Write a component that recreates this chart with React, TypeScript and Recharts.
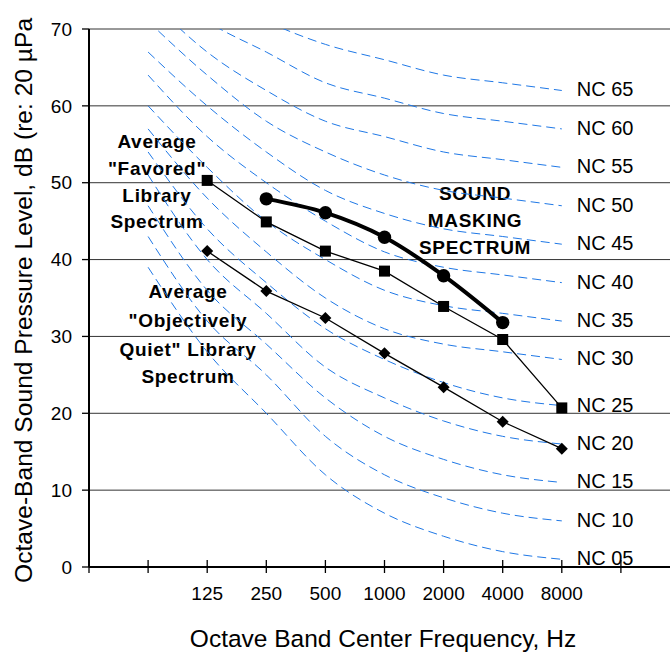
import { LineChart, Line, XAxis, YAxis, CartesianGrid } from "recharts";

// band positions on the x axis (0 = 31.5 Hz ... 9 = 16 kHz)
const bandPos = [1, 2, 3, 4, 5, 6, 7, 8];
const tickLabels = ["", "", "125", "250", "500", "1000", "2000", "4000", "8000", ""];

// NC curves, 63 Hz .. 8000 Hz
const nc65 = [80, 75, 71, 68, 66, 64, 63, 62];
const nc60 = [77, 71, 67, 63, 61, 59, 58, 57];
const nc55 = [74, 67, 62, 58, 56, 54, 53, 52];
const nc50 = [71, 64, 58, 54, 51, 49, 48, 47];
const nc45 = [67, 60, 54, 49, 46, 44, 43, 42];
const nc40 = [64, 56, 50, 45, 41, 39, 38, 37];
const nc35 = [60, 52, 45, 40, 36, 34, 33, 32];
const nc30 = [57, 48, 41, 35, 31, 29, 28, 27];
const nc25 = [54, 44, 37, 31, 27, 24, 22, 21];
const nc20 = [51, 40, 33, 26, 22, 19, 17, 16];
const nc15 = [47, 36, 29, 22, 17, 14, 12, 11];
const nc10 = [43, 32, 25, 17, 12, 9, 7, 6];
const nc05 = [39, 28, 20, 12, 7, 4, 2, 1];

const ncCurves: { name: string; values: number[] }[] = [
  { name: "NC 65", values: nc65 },
  { name: "NC 60", values: nc60 },
  { name: "NC 55", values: nc55 },
  { name: "NC 50", values: nc50 },
  { name: "NC 45", values: nc45 },
  { name: "NC 40", values: nc40 },
  { name: "NC 35", values: nc35 },
  { name: "NC 30", values: nc30 },
  { name: "NC 25", values: nc25 },
  { name: "NC 20", values: nc20 },
  { name: "NC 15", values: nc15 },
  { name: "NC 10", values: nc10 },
  { name: "NC 05", values: nc05 },
];

// measured spectra (null = no value at that band)
const favored = [null, 50.3, 44.9, 41.1, 38.5, 33.9, 29.6, 20.7];
const quiet = [null, 41.1, 35.9, 32.4, 27.8, 23.4, 18.9, 15.4];
const masking = [null, null, 47.9, 46.1, 42.9, 37.9, 31.8, null];

const data = bandPos.map((pos, i) => {
  const row: Record<string, number | null> = {
    pos,
    favored: favored[i],
    quiet: quiet[i],
    masking: masking[i],
  };
  ncCurves.forEach((c) => (row[c.name] = c.values[i]));
  return row;
});

const FONT = "'Liberation Sans', Arial, sans-serif";

function FreqTick({ x, y, payload }: any) {
  const label = tickLabels[payload.value] ?? "";
  return (
    <g>
      <line x1={x} x2={x} y1={y - 7} y2={y + 6} stroke="#000" strokeWidth={1.3} />
      {label && (
        <text x={x} y={y + 33} textAnchor="middle" fontSize={19} fill="#000">
          {label}
        </text>
      )}
    </g>
  );
}

const ncLabel = (name: string) => (p: any) => {
  if (p.index !== bandPos.length - 1) return <g key={p.index} />;
  return (
    <text key={p.index} x={p.x + 15} y={p.y + 6} fontSize={20} fill="#000">
      {name}
    </text>
  );
};

function SquareDot({ cx, cy, index }: any) {
  if (cx == null || cy == null) return <g key={index} />;
  return <rect key={index} x={cx - 5.5} y={cy - 5.5} width={11} height={11} fill="#000" />;
}

function DiamondDot({ cx, cy, index }: any) {
  if (cx == null || cy == null) return <g key={index} />;
  return (
    <path
      key={index}
      d={`M${cx},${cy - 6}L${cx + 6},${cy}L${cx},${cy + 6}L${cx - 6},${cy}Z`}
      fill="#000"
    />
  );
}

function CircleDot({ cx, cy, index }: any) {
  if (cx == null || cy == null) return <g key={index} />;
  return <circle key={index} cx={cx} cy={cy} r={6.7} fill="#000" />;
}

const boldText = { fontSize: 19, fontWeight: 700, fill: "#000", letterSpacing: 0.7 } as const;

export default function App() {
  return (
    <div
      style={{
        position: "absolute",
        left: 0,
        top: 0,
        width: 670,
        height: 652,
        overflow: "hidden",
        background: "#fff",
        fontFamily: FONT,
      }}
    >
      <LineChart
        width={700}
        height={652}
        data={data}
        margin={{ top: 29, right: 20, left: 0, bottom: 0 }}
      >
        <CartesianGrid horizontal vertical={false} stroke="#333" strokeWidth={1} />
        <XAxis
          dataKey="pos"
          type="number"
          domain={[0, 10]}
          ticks={[0, 1, 2, 3, 4, 5, 6, 7, 8, 9]}
          height={85}
          axisLine={{ stroke: "#000", strokeWidth: 2 }}
          tickLine={false}
          tickSize={0}
          tickMargin={0}
          tick={<FreqTick />}
          interval={0}
        />
        <YAxis
          type="number"
          domain={[0, 70]}
          ticks={[0, 10, 20, 30, 40, 50, 60, 70]}
          allowDataOverflow
          width={89}
          axisLine={{ stroke: "#000", strokeWidth: 2 }}
          tickLine={{ stroke: "#000", strokeWidth: 1.3 }}
          tickSize={7}
          tickMargin={10}
          tick={{ fill: "#000", fontSize: 19 }}
        />
        {ncCurves.map((c) => (
          <Line
            key={c.name}
            dataKey={c.name}
            type="monotone"
            stroke="#1f78e6"
            strokeWidth={1}
            strokeDasharray="9 5"
            dot={false}
            activeDot={false}
            label={ncLabel(c.name)}
            isAnimationActive={false}
          />
        ))}
        <Line
          dataKey="quiet"
          type="linear"
          stroke="#000"
          strokeWidth={1.3}
          dot={<DiamondDot />}
          activeDot={false}
          isAnimationActive={false}
        />
        <Line
          dataKey="favored"
          type="linear"
          stroke="#000"
          strokeWidth={1.3}
          dot={<SquareDot />}
          activeDot={false}
          isAnimationActive={false}
        />
        <Line
          dataKey="masking"
          type="monotone"
          stroke="#000"
          strokeWidth={4}
          dot={<CircleDot />}
          activeDot={false}
          isAnimationActive={false}
        />

        <text textAnchor="middle" {...boldText}>
          <tspan x={157} y={148}>Average</tspan>
          <tspan x={157} y={175}>"Favored"</tspan>
          <tspan x={157} y={202}>Library</tspan>
          <tspan x={157} y={228}>Spectrum</tspan>
        </text>
        <text textAnchor="middle" {...boldText}>
          <tspan x={188} y={298}>Average</tspan>
          <tspan x={188} y={327}>"Objectively</tspan>
          <tspan x={188} y={356}>Quiet" Library</tspan>
          <tspan x={188} y={383}>Spectrum</tspan>
        </text>
        <text textAnchor="middle" {...boldText}>
          <tspan x={475} y={200}>SOUND</tspan>
          <tspan x={475} y={227}>MASKING</tspan>
          <tspan x={475} y={254}>SPECTRUM</tspan>
        </text>

        <text x={383} y={647} textAnchor="middle" fontSize={24.5} fill="#000">
          Octave Band Center Frequency, Hz
        </text>
        <text
          x={32}
          y={583}
          transform="rotate(-90, 32, 583)"
          textAnchor="start"
          fontSize={24.6}
          fill="#000"
        >
          Octave-Band Sound Pressure Level, dB (re: 20 µPa
        </text>
      </LineChart>
    </div>
  );
}
